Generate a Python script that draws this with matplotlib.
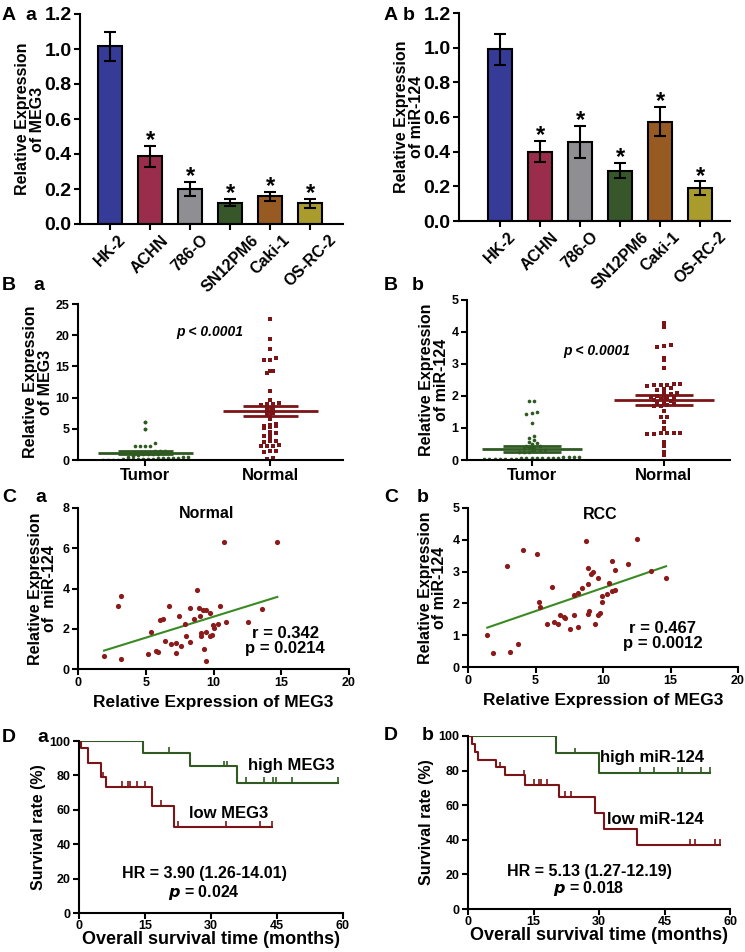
import numpy as np
import matplotlib
matplotlib.use("Agg")
import matplotlib.pyplot as plt
from matplotlib.ticker import FormatStrFormatter

plt.rcParams['font.family'] = ['Liberation Sans', 'DejaVu Sans']
plt.rcParams['font.weight'] = 'bold'
plt.rcParams['axes.labelweight'] = 'bold'

# ---- data ----
cells = ['HK-2', 'ACHN', '786-O', 'SN12PM6', 'Caki-1', 'OS-RC-2']
bar_colors = ['#353b97', '#9a2d4c', '#8f8e93', '#37572a', '#975a22', '#a99b2c']
meg3_cell = [1.015, 0.387, 0.201, 0.121, 0.158, 0.118]
meg3_cell_err = [0.084, 0.059, 0.041, 0.02, 0.027, 0.024]
mir_cell = [0.99, 0.40, 0.455, 0.29, 0.574, 0.19]
mir_cell_err = [0.088, 0.062, 0.091, 0.043, 0.085, 0.038]

groups = ['Tumor', 'Normal']
meg3_tumor = [6.1, 6.05, 4.95, 4.9, 2.7, 2.3, 2.25, 2.2, 2.2, 1.5, 1.45, 1.4, 1.35, 1.3,
              1.25, 1.2, 1.15, 1.1, 1.05, 1.0, 1.0, 0.95, 0.9, 0.85, 0.6, 0.55, 0.5, 0.45,
              0.4, 0.35, 0.3, 0.3, 0.25, 0.2, 0.2, 0.15, 0.15, 0.1, 0.1, 0.1, 0.05, 0.05,
              0.05, 0.0]
meg3_normal = [22.6, 19.4, 17.8, 16.3, 16.1, 16.0, 14.3, 14.2, 13.9, 11.1, 9.6, 9.2, 9.0,
               8.9, 8.8, 8.6, 8.3, 8.0, 7.8, 7.5, 7.2, 6.9, 6.5, 5.7, 5.6, 5.5, 5.4, 5.3,
               5.2, 4.5, 4.3, 4.1, 3.9, 3.5, 3.1, 3.0, 2.9, 2.4, 2.3, 2.3, 2.2, 1.5, 1.4,
               1.3, 0.4, 0.2]
meg3_mean = [1.17, 7.8]
meg3_sem = [0.2, 0.8]
mir_tumor = [1.85, 1.83, 1.5, 1.47, 1.45, 1.17, 0.76, 0.68, 0.62, 0.55, 0.52, 0.5, 0.45,
             0.43, 0.42, 0.4, 0.38, 0.3, 0.28, 0.27, 0.26, 0.25, 0.24, 0.1, 0.09, 0.08,
             0.08, 0.07, 0.07, 0.06, 0.06, 0.06, 0.05, 0.05, 0.05, 0.04, 0.04, 0.04, 0.03,
             0.03, 0.02, 0.02]
mir_normal = [4.27, 4.17, 3.6, 3.55, 3.52, 3.2, 3.12, 2.86, 2.38, 2.36, 2.35, 2.34, 2.33,
              2.32, 2.25, 2.23, 2.2, 2.1, 2.08, 2.05, 2.02, 2.0, 1.98, 1.95, 1.93, 1.9,
              1.88, 1.85, 1.82, 1.78, 1.75, 1.72, 1.7, 1.7, 1.53, 1.35, 1.33, 1.2, 1.0,
              0.98, 0.85, 0.84, 0.83, 0.83, 0.82, 0.82, 0.57, 0.45, 0.25, 0.15]
mir_mean = [0.34, 1.875]
mir_sem = [0.1, 0.16]

# correlation, normal tissue
norm_meg3 = [1.92, 2.95, 3.2, 3.2, 5.17, 5.36, 5.78, 5.9, 6.03, 6.27, 6.4, 6.72, 6.89, 7.2,
             7.26, 7.43, 7.62, 7.87, 8.0, 8.24, 8.29, 8.54, 8.8, 8.93, 8.98, 9.1, 9.05,
             9.23, 9.27, 9.42, 9.47, 9.47, 9.72, 9.72, 9.89, 9.96, 10.04, 10.33, 10.5,
             10.77, 10.95, 12.55, 13.6, 14.71]
norm_mir = [0.66, 3.14, 3.65, 0.51, 0.75, 1.86, 0.91, 0.86, 2.41, 2.49, 1.39, 3.14, 1.23,
            0.81, 1.31, 2.61, 1.16, 2.22, 1.63, 3.05, 1.33, 2.47, 3.95, 3.05, 2.61, 1.66,
            1.78, 2.94, 1.0, 1.86, 2.94, 0.4, 2.77, 1.66, 1.69, 2.19, 2.06, 2.24, 3.15,
            6.31, 2.36, 2.32, 2.99, 6.31]
# correlation, RCC
rcc_meg3 = [1.43, 1.85, 2.89, 3.11, 3.72, 4.07, 5.08, 5.25, 5.3, 5.82, 6.24, 6.36, 6.66,
            6.81, 7.1, 7.15, 7.55, 7.84, 7.84, 8.14, 8.16, 8.41, 8.75, 8.88, 8.88, 8.9,
            8.95, 9.08, 9.25, 9.4, 9.64, 9.64, 9.79, 9.89, 9.94, 10.26, 10.48, 10.68,
            10.68, 10.92, 10.92, 11.86, 12.53, 13.59, 14.67]
rcc_mir = [1.02, 0.43, 3.18, 0.47, 0.71, 3.68, 3.56, 2.05, 1.88, 1.34, 2.53, 1.4, 1.34,
           1.64, 1.58, 1.53, 1.19, 1.64, 2.25, 2.32, 1.27, 2.5, 3.97, 2.62, 3.1, 1.66,
           1.77, 2.91, 3.0, 1.35, 2.81, 1.65, 1.69, 2.22, 2.04, 2.3, 2.63, 3.33, 2.38,
           3.05, 2.41, 3.23, 4.02, 3.01, 2.79]

# Kaplan-Meier (months, survival %)
high_meg3_t = [0, 14.5, 25.3, 36.0, 58.9]
high_meg3_s = [100, 93.0, 85.3, 75.8, 75.8]
high_meg3_cens = [0.6, 1.7, 5.9, 6.3, 11.2, 12.1, 20.5, 32.9, 33.7, 37.9, 42.0, 44.1,
                  44.7, 48.5, 58.8]
low_meg3_t = [0, 0.5, 2.1, 4.9, 6.1, 16.5, 21.6, 43.9]
low_meg3_s = [100, 95.7, 87.4, 78.8, 73.4, 62.3, 50.1, 50.1]
low_meg3_cens = [5.5, 9.7, 11.2, 11.5, 13.1, 15.0, 18.6, 22.5, 33.4, 41.1, 43.9]

high_mir_t = [0, 20.1, 29.9, 55.4]
high_mir_s = [100, 90.0, 78.9, 78.9]
high_mir_cens = [0.5, 1.9, 2.4, 3.0, 3.4, 5.7, 7.4, 9.1, 10.9, 13.0, 13.6, 24.4, 39.3,
                 42.7, 48.0, 49.0, 53.4, 55.4]
low_mir_t = [0, 1.0, 1.6, 2.2, 6.3, 8.4, 13.0, 20.8, 29.0, 31.2, 38.7, 57.7]
low_mir_s = [100, 95.5, 90.9, 86.4, 81.8, 77.3, 71.9, 64.7, 55.5, 46.2, 37.0, 37.0]
low_mir_cens = [7.3, 12.8, 15.1, 16.2, 16.8, 18.1, 22.2, 23.7, 50.9, 51.9, 56.6, 57.7]

GREEN = '#2f5a22'
RED = '#7b1416'
DOT = '#8b1a1a'
LINE = '#3a8a24'

W, H = 745, 952
fig = plt.figure(figsize=(W / 100, H / 100), dpi=100)


def box(x0, x1, y0, y1):
    return [x0 / W, 1 - y1 / H, (x1 - x0) / W, (y1 - y0) / H]


def style(ax, fs):
    for s in ['top', 'right']:
        ax.spines[s].set_visible(False)
    for s in ['left', 'bottom']:
        ax.spines[s].set_linewidth(1.5)
    ax.tick_params(width=1.5, length=4, labelsize=fs, pad=2)


def label(x, y, t, size=14):
    fig.text(x / W, 1 - y / H, t, fontsize=size, fontweight='bold', va='center', ha='left')


def swarm(vals, center, bin_h, dx):
    vals = np.asarray(vals, float)
    xs = np.full(len(vals), float(center))
    keys = np.floor(vals / bin_h)
    for k in np.unique(keys):
        idx = np.where(keys == k)[0]
        idx = idx[np.argsort(vals[idx])]
        n = len(idx)
        xs[idx] = center + (np.arange(n) - (n - 1) / 2) * dx
    return xs


def surv_at(t, s, x):
    i = np.searchsorted(t, x, side='right') - 1
    return np.asarray(s)[i]


# ---- A: bars ----
def bars(rect, vals, errs, xlim, ylab):
    ax = fig.add_axes(rect)
    x = np.arange(len(cells))
    ax.bar(x, vals, width=0.6, color=bar_colors, edgecolor='black', linewidth=1.5, zorder=2)
    ax.errorbar(x, vals, yerr=errs, fmt='none', ecolor='black', elinewidth=1.5,
                capsize=4, capthick=1.5, zorder=3)
    for i in range(1, len(cells)):
        ax.text(x[i], vals[i] + errs[i] - 0.035, '*', ha='center', va='bottom', fontsize=17)
    ax.set_xlim(*xlim)
    ax.set_ylim(0, 1.2)
    ax.set_yticks(np.arange(0, 1.21, 0.2))
    ax.yaxis.set_major_formatter(FormatStrFormatter('%.1f'))
    ax.set_xticks(x)
    ax.set_xticklabels(cells, rotation=45, ha='center')
    style(ax, 14)
    for t in ax.get_xticklabels():
        t.set_fontsize(11.5)
    ax.set_ylabel(ylab, fontsize=11.5, linespacing=0.95, labelpad=0)
    return ax


bars(box(80, 343, 14, 224), meg3_cell, meg3_cell_err, (-0.75, 5.825),
     'Relative Expression\nof MEG3')
bars(box(459, 730, 13, 221), mir_cell, mir_cell_err, (-1.025, 5.75),
     'Relative Expression\nof miR-124')
label(2, 15, 'A')
label(25, 15, 'a')
label(384, 15, 'A')
label(403, 15, 'b')


# ---- B: dot plots ----
def dots(rect, tum, nor, mean, sem, xlim, ymax, step, bin_h, ylab, ptxt):
    ax = fig.add_axes(rect)
    xt = swarm(tum, 0, bin_h, 0.04)
    xn = swarm(nor, 1, bin_h, 0.05)
    ax.scatter(xt, tum, s=7, marker='o', color=GREEN, linewidths=0, zorder=2)
    ax.scatter(xn, nor, s=8, marker='s', color=RED, linewidths=0, zorder=2)
    for c, col in zip([0, 1], [GREEN, RED]):
        ax.hlines(mean[c], c - 0.38, c + 0.38, color=col, lw=2, zorder=3)
        ax.hlines([mean[c] - sem[c], mean[c] + sem[c]], c - 0.22, c + 0.22, color=col, lw=2,
                  zorder=3)
        ax.vlines(c, mean[c] - sem[c], mean[c] + sem[c], color=col, lw=2, zorder=3)
    ax.set_xlim(*xlim)
    ax.set_ylim(0, ymax)
    ax.set_yticks(np.arange(0, ymax + 0.01, step))
    ax.set_xticks([0, 1])
    ax.set_xticklabels(groups)
    style(ax, 9)
    for t in ax.get_xticklabels():
        t.set_fontsize(12)
    ax.set_ylabel(ylab, fontsize=11.5, linespacing=0.95, labelpad=2)
    ax.text(*ptxt, 'p < 0.0001', fontsize=10, style='italic', ha='center', va='center')
    return ax


dots(box(78, 343, 304, 460), meg3_tumor, meg3_normal, meg3_mean, meg3_sem,
     (-0.536, 1.584), 25, 5, 0.55, 'Relative Expression\nof MEG3', (0.52, 20.5))
dots(box(467, 730, 300, 460), mir_tumor, mir_normal, mir_mean, mir_sem,
     (-0.49, 1.5), 5, 1, 0.11, 'Relative Expression\nof miR-124', (0.495, 3.4))
label(2, 285, 'B')
label(33, 285, 'a')
label(384, 285, 'B')
label(412, 285, 'b')


# ---- C: correlations ----
def corr(rect, xv, yv, ymax, step, ylab, title, tpos, rtxt, rpos):
    ax = fig.add_axes(rect)
    ax.scatter(xv, yv, s=14, color=DOT, linewidths=0, zorder=3)
    k, b = np.polyfit(xv, yv, 1)
    xx = np.array([min(xv), max(xv)])
    ax.plot(xx, k * xx + b, color=LINE, lw=1.5, zorder=2)
    ax.set_xlim(0, 20)
    ax.set_ylim(0, ymax)
    ax.set_xticks([0, 5, 10, 15, 20])
    ax.set_yticks(np.arange(0, ymax + 0.01, step))
    style(ax, 9)
    ax.set_ylabel(ylab, fontsize=11.5, linespacing=0.95, labelpad=4)
    ax.set_xlabel('Relative Expression of MEG3', fontsize=12.5, labelpad=4)
    ax.text(*tpos, title, fontsize=11.5, ha='center', va='center')
    ax.text(*rpos, rtxt, fontsize=12, ha='center', va='center', linespacing=1.0)
    return ax


corr(box(78, 349, 508, 669), norm_meg3, norm_mir, 8, 2, 'Relative Expression\nof  miR-124',
     'Normal', (9.5, 7.75), 'r = 0.342\np = 0.0214', (15.3, 1.37))
corr(box(468, 738, 508, 667), rcc_meg3, rcc_mir, 5, 1, 'Relative Expression\nof miR-124',
     'RCC', (9.8, 4.78), 'r = 0.467\np = 0.0012', (14.4, 0.98))
label(2, 497, 'C')
label(35, 497, 'a')
label(384, 497, 'C')
label(417, 497, 'b')


# ---- D: survival ----
def km(rect, curves, hr, ptxt, pos, names):
    ax = fig.add_axes(rect)
    for (t, s, cens, col), (nm, npos) in zip(curves, names):
        ax.step(t, s, where='post', color=col, lw=1.5, zorder=2)
        ax.plot(cens, surv_at(t, s, cens) + 1.5, ls='none', marker='|', ms=5, mew=1.2,
                color=col, zorder=3)
        ax.text(*npos, nm, fontsize=12, ha='left', va='center')
    ax.set_xlim(0, 60)
    ax.set_ylim(0, 100)
    ax.set_xticks([0, 15, 30, 45, 60])
    ax.set_yticks(np.arange(0, 101, 20))
    style(ax, 9)
    ax.tick_params(axis='x', pad=1)
    ax.set_ylabel('Survival rate (%)', fontsize=11.5, labelpad=3)
    ax.set_xlabel('Overall survival time (months)', fontsize=13, labelpad=-1)
    ax.text(pos[0], pos[1], hr, fontsize=11.5, ha='center', va='center')
    ax.text(pos[0], pos[2], '$\\boldsymbol{p}$ = ' + ptxt, fontsize=11.5, ha='center',
            va='center')
    return ax


km(box(79, 343, 741, 913),
   [(high_meg3_t, high_meg3_s, high_meg3_cens, GREEN),
    (low_meg3_t, low_meg3_s, low_meg3_cens, RED)],
   'HR = 3.90 (1.26-14.01)', '0.024', (28.4, 22.7, 12.2),
   [('high MEG3', (38.4, 85.5)), ('low MEG3', (25, 58))])
km(box(468, 730, 736, 909),
   [(high_mir_t, high_mir_s, high_mir_cens, GREEN),
    (low_mir_t, low_mir_s, low_mir_cens, RED)],
   'HR = 5.13 (1.27-12.19)', '0.018', (27.7, 21.6, 11.8),
   [('high miR-124', (30.2, 87.3)), ('low miR-124', (31.8, 52))])
label(2, 738, 'D')
label(37, 738, 'a')
label(384, 735, 'D')
label(422, 735, 'b')

fig.savefig('out.png', dpi=100)
